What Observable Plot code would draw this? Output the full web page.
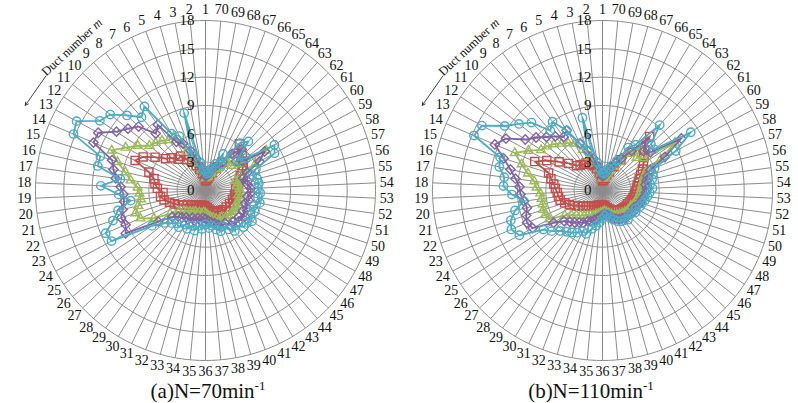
<!DOCTYPE html>
<html><head><meta charset="utf-8">
<script src="https://cdn.jsdelivr.net/npm/d3@7"></script>
<script src="https://cdn.jsdelivr.net/npm/@observablehq/plot@0.6"></script>
<style>
body{margin:0;background:#fff;font-family:"Liberation Serif","Times New Roman",serif;}
#wrap{display:flex;width:798px;height:403px;overflow:hidden;}
.panel{position:relative;}
.panel svg{overflow:visible;display:block;}
.cap{position:absolute;top:381px;font-size:21px;line-height:21px;white-space:nowrap;transform:translateX(-50%);color:#111;}
.cap sup{font-size:13px;line-height:0;}
</style></head><body>
<div id="wrap"></div>
<script>
// ---- data ----
const ducts = d3.range(1, 71);
const ringValues = [3, 6, 9, 12, 15, 18];
const ringLabels = [0, 3, 6, 9, 12, 15, 18];
const seriesColors = ["#c0504d", "#9bbb59", "#8064a2", "#4bacc6"];
const seriesSymbols = ["square", "triangle2", "diamond2", "circle"];
const captionA = "(a)N=70min";
const captionB = "(b)N=110min";

const a70Red = [1.0,1.4,1.8,2.3,2.8,3.4,3.8,4.5,4.4,5.0,5.4,6.4,7.5,8.1,6.3,5.6,5.4,5.1,4.5,4.8,4.5,4.0,3.6,3.2,2.8,2.4,2.2,2.0,1.9,1.8,1.7,1.8,1.6,1.7,1.6,1.7,1.8,2.0,2.2,2.4,2.6,2.5,2.8,2.7,3.0,2.8,3.1,2.9,3.2,3.0,3.3,3.1,3.4,3.2,3.5,3.6,3.8,4.0,4.4,4.8,5.0,5.4,5.2,6.1,3.5,2.6,2.0,1.6,1.3,1.1];
const a70Green = [1.3,1.8,2.2,3.0,3.6,4.6,6.6,6.6,7.0,7.3,7.6,8.6,9.6,10.8,9.8,8.7,8.0,7.2,7.0,6.9,7.3,7.8,7.5,6.2,4.5,3.6,3.2,3.0,2.8,2.7,2.5,2.6,2.4,2.5,2.3,2.4,2.6,2.8,3.0,3.2,3.4,3.3,3.6,3.5,3.8,3.6,3.9,3.7,3.9,3.6,3.8,3.5,3.7,3.6,3.4,3.5,3.3,4.0,6.0,7.7,4.5,3.8,4.2,3.6,2.8,2.5,2.0,1.8,1.5,1.4];
const a70Purple = [1.5,2.0,2.5,3.5,4.5,5.5,6.0,8.6,8.0,9.8,10.5,11.3,12.9,12.9,10.4,10.0,9.6,9.0,8.7,8.7,9.0,9.4,9.2,9.6,6.0,4.5,4.0,3.8,3.5,3.6,3.2,3.4,3.0,3.2,2.9,3.0,3.2,3.4,3.6,3.9,4.2,4.0,4.6,4.4,4.8,4.5,5.0,4.5,4.8,4.4,4.7,4.5,4.8,4.8,4.5,4.6,4.2,4.8,6.5,7.5,5.0,4.5,5.8,4.8,3.5,3.0,2.6,2.2,1.8,1.6];
const a70Cyan = [2.0,2.2,3.0,8.5,4.0,6.4,7.0,11.0,10.3,11.5,12.9,13.4,15.5,15.2,11.7,11.7,9.1,11.1,9.2,8.0,9.5,10.3,11.5,11.3,6.8,5.5,5.0,4.6,4.8,4.2,4.5,4.0,4.4,3.8,4.1,3.6,4.0,3.8,4.3,4.6,4.2,4.8,5.3,4.9,5.6,5.5,5.9,5.4,5.7,5.3,5.9,5.6,5.8,5.5,5.7,5.6,5.2,5.8,8.3,8.75,5.5,4.6,6.9,6.2,3.2,4.3,3.0,2.4,2.0,1.8];

const b110Red = [1.0,1.4,1.9,2.4,2.8,3.1,3.4,3.4,3.6,3.8,4.6,5.5,6.7,7.8,6.0,5.6,5.2,5.0,4.8,4.7,4.6,4.2,3.8,3.4,3.0,2.6,2.4,2.2,2.0,1.9,1.8,1.7,1.6,1.6,1.5,1.5,1.6,1.7,1.9,2.1,2.3,2.4,2.6,2.7,2.8,2.9,3.0,3.0,3.1,3.2,3.3,3.4,3.5,3.6,3.7,3.9,4.1,4.4,4.8,5.2,5.6,6.2,7.6,5.0,3.8,2.8,2.1,1.7,1.3,1.1];
const b110Green = [1.3,1.8,2.3,3.0,3.8,4.8,5.8,6.2,6.6,7.1,7.5,7.8,8.9,10.1,9.0,8.1,7.3,7.0,6.6,6.5,6.5,6.6,6.6,6.4,4.8,4.2,3.8,3.5,3.3,3.1,2.9,2.8,2.6,2.5,2.4,2.3,2.2,2.3,2.5,2.7,2.9,3.0,3.1,3.2,3.3,3.4,3.5,3.4,3.6,3.7,3.8,3.9,4.0,4.1,4.2,4.4,4.6,5.0,7.0,9.2,5.5,5.0,6.0,4.8,3.5,2.8,2.2,1.8,1.5,1.3];
const b110Purple = [1.5,2.0,2.6,3.5,4.5,5.5,7.4,7.0,7.6,8.2,9.0,9.8,11.6,12.4,11.0,10.0,9.3,8.8,8.7,8.4,8.2,8.5,8.7,8.4,6.2,5.2,4.8,4.5,4.2,4.0,3.6,3.5,3.2,3.0,2.8,2.6,2.5,2.6,2.8,3.1,3.3,3.5,3.6,3.8,3.7,3.9,4.0,3.8,4.1,4.2,4.3,4.5,4.6,4.7,4.6,4.8,5.0,5.5,7.5,10.0,6.5,6.0,7.0,5.2,4.0,3.2,2.6,2.2,1.8,1.6];
const b110Cyan = [1.9,2.2,3.0,8.0,4.5,5.5,7.4,9.0,8.4,10.4,11.3,12.4,14.5,14.8,11.4,11.2,10.5,10.5,9.6,8.4,9.5,10.2,10.5,10.0,7.5,6.9,6.2,5.8,5.5,5.2,4.8,4.9,4.2,3.8,3.4,3.0,2.7,2.5,3.0,3.3,3.6,3.8,3.9,4.1,3.8,3.9,4.2,4.0,4.3,4.4,4.6,4.8,5.0,5.3,5.1,5.4,5.6,6.0,8.8,11.2,7.0,7.1,9.2,6.0,5.3,3.5,2.8,2.4,2.0,1.8];

// ---- drawing ----
const k = 170 / 18;            // px per unit
const labelR = 19.2;
const gridColor = "#8c8c8c";
const serif = "Liberation Serif";
const ang = m => (m - 1) * 2 * Math.PI / 70;
const px = (r, m) => -r * Math.sin(ang(m));
const py = (r, m) => r * Math.cos(ang(m));
const pxDeg = (r, deg) => -r * Math.sin(deg * Math.PI / 180);
const pyDeg = (r, deg) => r * Math.cos(deg * Math.PI / 180);

function radar(width, cx, cy, H, seriesList) {
  const ringPts = ringValues.flatMap(r => d3.range(0, 361, 2).map(a => ({r, a})));
  const marks = [
    Plot.line(ringPts, {x: d => pxDeg(d.r, d.a), y: d => pyDeg(d.r, d.a), z: "r", stroke: gridColor, strokeWidth: 1}),
    Plot.link(ducts, {x1: () => 0, y1: () => 0, x2: m => px(18, m), y2: m => py(18, m), stroke: gridColor, strokeWidth: 1})
  ];
  seriesList.forEach((vals, i) => {
    const rows = vals.map((v, j) => ({m: j + 1, v}));
    marks.push(Plot.line(rows, {x: d => px(d.v, d.m), y: d => py(d.v, d.m), stroke: seriesColors[i], strokeWidth: 1.8, curve: "linear-closed"}));
    marks.push(Plot.dot(rows, {x: d => px(d.v, d.m), y: d => py(d.v, d.m), symbol: seriesSymbols[i], r: i === 0 ? 4.6 : 4.2, stroke: seriesColors[i], fill: "none", strokeWidth: 1.4}));
  });
  marks.push(Plot.text(ducts, {x: m => px(labelR, m), y: m => py(labelR, m), text: m => String(m), fontSize: 14, fontFamily: serif, fill: "#111"}));
  marks.push(Plot.text(ringLabels, {x: () => 0, y: d => d, text: d => String(d), textAnchor: "end", dx: -11, fontSize: 15, fontFamily: serif, fill: "#111"}));
  marks.push(Plot.text(["Duct number m"], {x: () => pxDeg(20.75, 43), y: () => pyDeg(20.75, 43), text: d => d, rotate: -43, fontSize: 12.5, fontFamily: serif, fill: "#111"}));
  marks.push(Plot.arrow([0], {x1: () => pxDeg(20.8, 54.5), y1: () => pyDeg(20.8, 54.5), x2: () => pxDeg(21.1, 64.7), y2: () => pyDeg(21.1, 64.7), stroke: "#111", strokeWidth: 0.8, headLength: 6, bend: 0}));
  const svg = Plot.plot({
    width, height: H, margin: 0,
    x: {domain: [-cx / k, (width - cx) / k], range: [0, width], axis: null},
    y: {domain: [-(H - cy) / k, cy / k], range: [H, 0], axis: null},
    style: {fontFamily: serif, background: "#fff", overflow: "visible"},
    marks
  });
  svg.querySelectorAll("text").forEach(t => {
    if (t.textContent === "Duct number m") {
      t.innerHTML = 'Duct number <tspan font-style="italic">m</tspan>';
    }
  });
  return svg;
}

function panel(width, cx, capText, capX, seriesList) {
  const div = document.createElement("div");
  div.className = "panel";
  div.style.width = width + "px";
  div.appendChild(radar(width, cx, 190, 380, seriesList));
  const cap = document.createElement("div");
  cap.className = "cap";
  cap.style.left = capX + "px";
  cap.innerHTML = capText + "<sup>-1</sup>";
  div.appendChild(cap);
  return div;
}

const wrap = document.getElementById("wrap");
wrap.appendChild(panel(400, 205, captionA, 208, [a70Red, a70Green, a70Purple, a70Cyan]));
wrap.appendChild(panel(398, 202, captionB, 191, [b110Red, b110Green, b110Purple, b110Cyan]));
</script>
</body></html>
